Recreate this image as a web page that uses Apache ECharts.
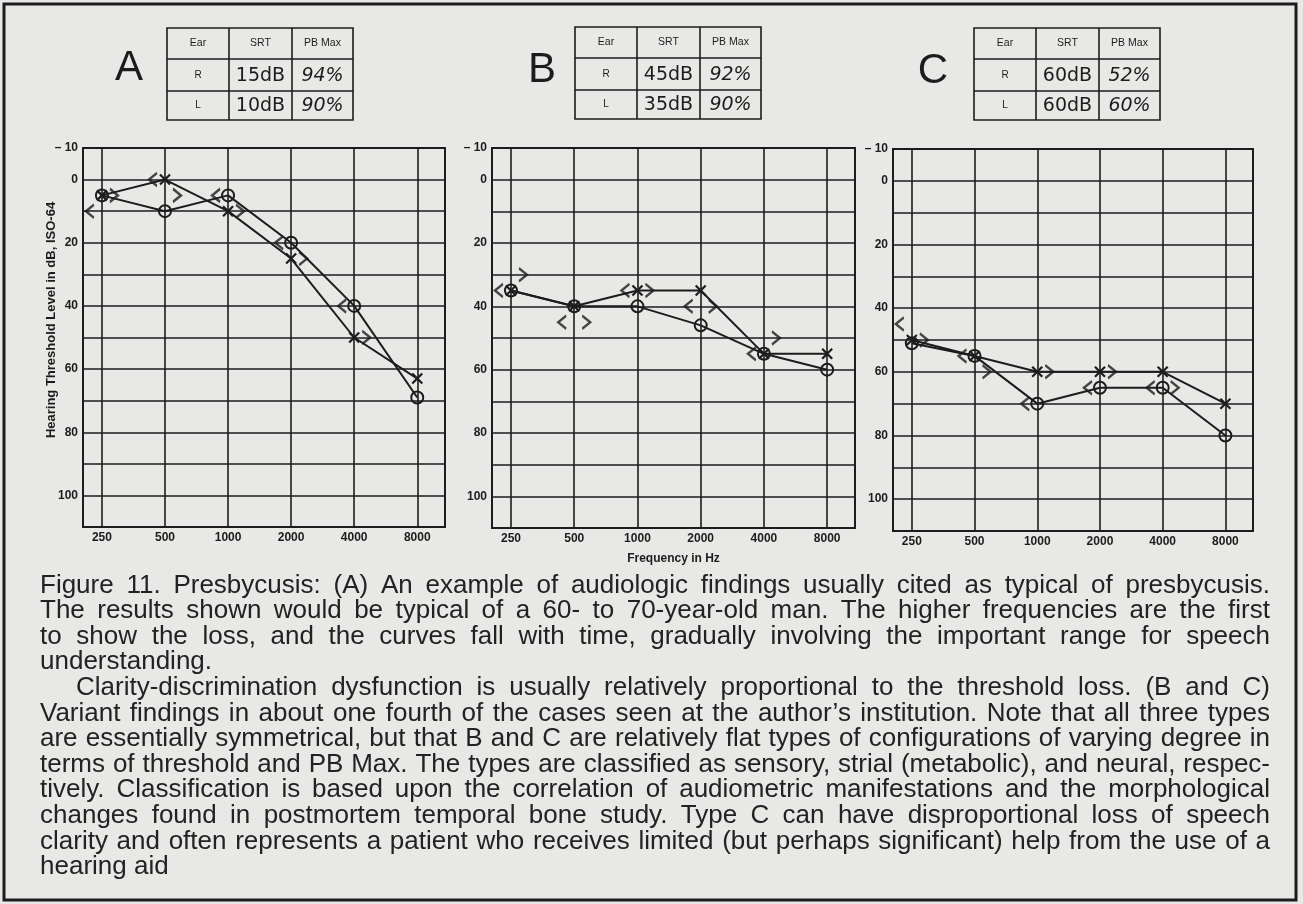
<!DOCTYPE html>
<html>
<head>
<meta charset="utf-8">
<script src="https://cdn.jsdelivr.net/npm/echarts@6/dist/echarts.min.js"></script>
<style>
html,body{margin:0;padding:0;background:#e8e8e6;}
#c{width:1303px;height:904px;}
</style>
</head>
<body>
<div id="c"></div>
<script>
// ---------- data ----------
const freqLabels = ['250', '500', '1000', '2000', '4000', '8000'];
const freqIdx = [0, 1, 2, 3, 4, 5];
const yTickValues = [-10, 0, 20, 40, 60, 80, 100];
const yTickLabels = ['– 10', '0', '20', '40', '60', '80', '100'];
const panelLetters = ['A', 'B', 'C'];

// Panel A  (O = right air, X = left air, < = right bone, > = left bone)
const rightAirA = [5, 10, 5, 20, 40, 69];
const leftAirA = [5, 0, 10, 25, 50, 63];
const rightBoneA = [10, 0, 5, 20, 40, null];
const leftBoneA = [5, 5, 10, 25, 50, null];

// Panel B
const rightAirB = [35, 40, 40, 46, 55, 60];
const leftAirB = [35, 40, 35, 35, 55, 55];
const rightBoneB = [35, 45, 35, 40, 55, null];
const leftBoneB = [30, 45, 35, 40, 50, null];

// Panel C
const rightAirC = [51, 55, 70, 65, 65, 80];
const leftAirC = [50, 55, 60, 60, 60, 70];
const rightBoneC = [45, 55, 70, 65, 65, null];
const leftBoneC = [50, 60, 60, 60, 65, null];

// Tables
const tableHeader = ['Ear', 'SRT', 'PB Max'];
const tableEars = ['R', 'L'];
const srtA = ['15dB', '10dB'];
const pbA = ['94%', '90%'];
const srtB = ['45dB', '35dB'];
const pbB = ['92%', '90%'];
const srtC = ['60dB', '60dB'];
const pbC = ['52%', '60%'];

const yAxisTitle = 'Hearing Threshold Level in dB, ISO-64';
const xAxisTitle = 'Frequency in Hz';

const captionLines = [
  'Figure 11. Presbycusis: (A) An example of audiologic findings usually cited as typical of presbycusis.',
  'The results shown would be typical of a 60- to 70-year-old man. The higher frequencies are the first',
  'to show the loss, and the curves fall with time, gradually involving the important range for speech',
  'understanding.',
  'Clarity-discrimination dysfunction is usually relatively proportional to the threshold loss. (B and C)',
  'Variant findings in about one fourth of the cases seen at the author\u2019s institution. Note that all three types',
  'are essentially symmetrical, but that B and C are relatively flat types of configurations of varying degree in',
  'terms of threshold and PB Max. The types are classified as sensory, strial (metabolic), and neural, respec-',
  'tively. Classification is based upon the correlation of audiometric manifestations and the morphological',
  'changes found in postmortem temporal bone study. Type C can have disproportional loss of speech',
  'clarity and often represents a patient who receives limited (but perhaps significant) help from the use of a',
  'hearing aid'
];
const captionJustify = [true, true, true, false, true, true, true, true, true, true, true, false];
const captionIndent = [0, 0, 0, 0, 1, 0, 0, 0, 0, 0, 0, 0];

// ---------- layout / style ----------
const INK = '#1c1c1c';
const FONT = '"Liberation Sans", Arial, Helvetica, sans-serif';
const panels = [
  { r: rightAirA, l: leftAirA, rb: rightBoneA, lb: leftBoneA, srt: srtA, pb: pbA },
  { r: rightAirB, l: leftAirB, rb: rightBoneB, lb: leftBoneB, srt: srtB, pb: pbB },
  { r: rightAirC, l: leftAirC, rb: rightBoneC, lb: leftBoneC, srt: srtC, pb: pbC }
];
const gridBoxes = [
  { left: 83, top: 148, width: 362, height: 379 },
  { left: 492, top: 148, width: 363, height: 380 },
  { left: 893, top: 149, width: 360, height: 382 }
];
const tableBoxes = [[167, 28], [575, 27], [974, 28]];
const letterPos = [[129, 68], [542, 70], [933, 71]];

const SYM_X = 'path://M0,0L10,10M10,0L0,10';
const SYM_LT = 'path://M8,0L0,7L8,14';
const SYM_GT = 'path://M0,0L8,7L0,14';

const grid = gridBoxes.map(b => Object.assign({
  show: true, borderColor: INK, borderWidth: 2, backgroundColor: 'transparent'
}, b));

const xAxis = gridBoxes.map((b, i) => ({
  gridIndex: i, type: 'value', min: -0.3, max: 5.44,
  axisLine: { show: false }, axisTick: { show: false }, splitLine: { show: false },
  axisLabel: {
    customValues: freqIdx,
    formatter: v => freqLabels[Math.round(v)],
    color: INK, fontSize: 12, fontWeight: 'bold', fontFamily: FONT, margin: 5
  },
  name: i === 1 ? xAxisTitle : '',
  nameLocation: 'middle', nameGap: 25,
  nameTextStyle: { color: INK, fontSize: 12, fontWeight: 'bold', fontFamily: FONT }
}));

const yAxis = gridBoxes.map((b, i) => ({
  gridIndex: i, type: 'value', inverse: true, min: -10, max: 110, interval: 10,
  axisLine: { show: false }, axisTick: { show: false },
  splitLine: { show: true, lineStyle: { color: INK, width: 1.6 } },
  axisLabel: {
    formatter: v => { const k = yTickValues.indexOf(v); return k < 0 ? '' : yTickLabels[k]; },
    color: INK, fontSize: 12, fontWeight: 'bold', fontFamily: FONT, margin: 5
  }
}));

const series = [];
panels.forEach((p, i) => {
  const pts = arr => freqIdx.map((f, j) => arr[j] == null ? null : [f, arr[j]]).filter(Boolean);
  series.push({
    type: 'line', name: 'vgrid' + i, xAxisIndex: i, yAxisIndex: i, data: [], z: 1, silent: true,
    markLine: {
      silent: true, symbol: ['none', 'none'], label: { show: false },
      lineStyle: { color: INK, width: 1.6, type: 'solid' },
      emphasis: { disabled: true },
      data: freqIdx.map(f => ({ xAxis: f }))
    }
  });
  series.push({
    type: 'line', name: 'Right air ' + i, xAxisIndex: i, yAxisIndex: i, data: pts(p.r), z: 5,
    symbol: 'circle', symbolSize: 12,
    itemStyle: { color: 'transparent', borderColor: INK, borderWidth: 2 },
    lineStyle: { color: INK, width: 2 }, animation: false
  });
  series.push({
    type: 'line', name: 'Left air ' + i, xAxisIndex: i, yAxisIndex: i, data: pts(p.l), z: 5,
    symbol: SYM_X, symbolSize: 10,
    itemStyle: { color: 'transparent', borderColor: INK, borderWidth: 2.2 },
    lineStyle: { color: INK, width: 2 }, animation: false
  });
  series.push({
    type: 'scatter', name: 'Right bone ' + i, xAxisIndex: i, yAxisIndex: i, data: pts(p.rb), z: 5,
    symbol: SYM_LT, symbolSize: [8, 13], symbolOffset: [-12, 0],
    itemStyle: { color: 'transparent', borderColor: INK, borderWidth: 2.2 }, animation: false
  });
  series.push({
    type: 'scatter', name: 'Left bone ' + i, xAxisIndex: i, yAxisIndex: i, data: pts(p.lb), z: 5,
    symbol: SYM_GT, symbolSize: [8, 13], symbolOffset: [12, 0],
    itemStyle: { color: 'transparent', borderColor: INK, borderWidth: 2.2 }, animation: false
  });
});

// ---------- graphic: frame, tables, letters, captions ----------
const g = [];
g.push({ type: 'rect', silent: true, z: 0, shape: { x: 4, y: 4, width: 1292, height: 896 },
  style: { fill: 'none', stroke: INK, lineWidth: 3 } });

g.push({ type: 'text', silent: true, x: 51, y: 320, rotation: Math.PI / 2,
  style: { text: yAxisTitle, font: 'bold 13px ' + FONT, fill: INK, align: 'center', verticalAlign: 'middle' } });

panels.forEach((p, i) => {
  const [x0, y0] = tableBoxes[i];
  const W = 186, H = 92, cols = [62, 125], rows = [31, 63];
  const cx = [31, 93.5, 155.5], cy = [15.5, 47, 77.5];
  g.push({ type: 'rect', silent: true, shape: { x: x0, y: y0, width: W, height: H },
    style: { fill: 'none', stroke: INK, lineWidth: 1.6 } });
  cols.forEach(c => g.push({ type: 'line', silent: true, shape: { x1: x0 + c, y1: y0, x2: x0 + c, y2: y0 + H },
    style: { stroke: INK, lineWidth: 1.6 } }));
  rows.forEach(r => g.push({ type: 'line', silent: true, shape: { x1: x0, y1: y0 + r, x2: x0 + W, y2: y0 + r },
    style: { stroke: INK, lineWidth: 1.6 } }));
  tableHeader.forEach((t, k) => g.push({ type: 'text', silent: true, x: x0 + cx[k], y: y0 + cy[0],
    style: { text: t, font: '10.5px ' + FONT, fill: INK, align: 'center', verticalAlign: 'middle' } }));
  tableEars.forEach((t, r) => {
    g.push({ type: 'text', silent: true, x: x0 + cx[0], y: y0 + cy[r + 1],
      style: { text: t, font: '10px ' + FONT, fill: INK, align: 'center', verticalAlign: 'middle' } });
    g.push({ type: 'text', silent: true, x: x0 + cx[1], y: y0 + cy[r + 1] + 1,
      style: { text: p.srt[r], font: '19px "DejaVu Sans", ' + FONT, fill: INK, align: 'center', verticalAlign: 'middle' } });
    g.push({ type: 'text', silent: true, x: x0 + cx[2], y: y0 + cy[r + 1] + 1,
      style: { text: p.pb[r], font: 'italic 19px "DejaVu Sans", ' + FONT, fill: INK, align: 'center', verticalAlign: 'middle' } });
  });
  g.push({ type: 'text', silent: true, x: letterPos[i][0], y: letterPos[i][1],
    style: { text: panelLetters[i], font: '42px ' + FONT, fill: INK, align: 'center', verticalAlign: 'middle' } });
});

// justified caption
const CAP_SIZE = 26;
const CAP_FONT = CAP_SIZE + 'px ' + FONT;
const X0 = 40, X1 = 1270, BASE0 = 594, STEP = 25.6, INDENT = 36;
const ctx = document.createElement('canvas').getContext('2d');
ctx.font = CAP_FONT;
const spaceW = ctx.measureText(' ').width;
captionLines.forEach((line, li) => {
  const words = line.split(' ');
  const widths = words.map(w => ctx.measureText(w).width);
  const total = widths.reduce((a, b) => a + b, 0);
  const start = X0 + (captionIndent[li] ? INDENT : 0);
  const avail = X1 - start;
  let gap = spaceW, scale = 1;
  if (captionJustify[li] && words.length > 1) {
    gap = (avail - total) / (words.length - 1);
    if (gap < 4) { gap = 4; scale = (avail - gap * (words.length - 1)) / total; }
  }
  let x = start;
  const y = BASE0 + li * STEP - CAP_SIZE * 0.33;
  words.forEach((w, k) => {
    g.push({ type: 'text', silent: true, x: x, y: y, scaleX: scale,
      style: { text: w, font: CAP_FONT, fill: '#222', align: 'left', verticalAlign: 'middle' } });
    x += widths[k] * scale + gap;
  });
});

const chart = echarts.init(document.getElementById('c'), null, { renderer: 'canvas' });
chart.setOption({
  backgroundColor: '#e8e8e6',
  animation: false,
  grid: grid,
  xAxis: xAxis,
  yAxis: yAxis,
  series: series,
  graphic: { elements: g }
});
</script>
</body>
</html>
